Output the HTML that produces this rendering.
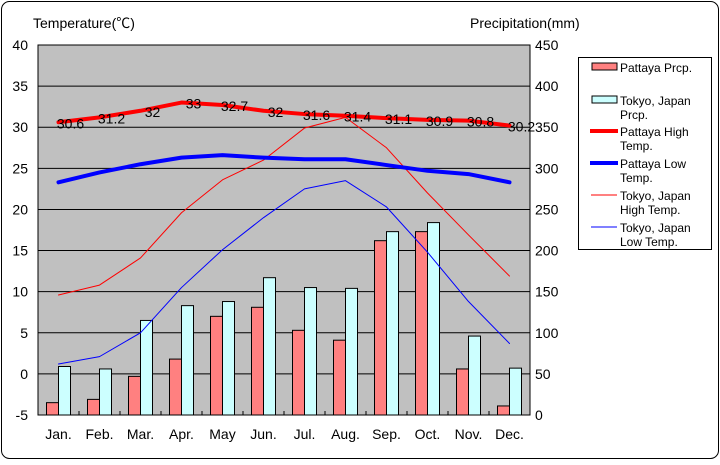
<!DOCTYPE html>
<html><head><meta charset="utf-8"><style>
body{margin:0;background:#fff;}
svg text{font-family:"Liberation Sans","Noto Sans CJK JP",sans-serif;}
</style></head><body>
<svg id="c" width="720" height="460" xmlns="http://www.w3.org/2000/svg">
<rect x="1.5" y="1.5" width="717" height="457" rx="8" fill="#fff" stroke="#000"/>
<rect x="38" y="45" width="492" height="370" fill="#c0c0c0" stroke="#000"/>
<text x="33" y="28" font-size="14">Temperature(℃)</text>
<text x="470" y="28" font-size="14">Precipitation(mm)</text>
<g id="grid"></g><g id="bars"></g><g id="lines"></g><g id="labels"></g><g id="axes"></g>
<g>
<rect x="578.5" y="57.5" width="133" height="192" fill="#fff" stroke="#000"/>
<rect x="592" y="63" width="25" height="7" fill="#ff8080" stroke="#000"/>
<text x="620" y="72" font-size="12">Pattaya Prcp.</text>
<rect x="592" y="96" width="25" height="7" fill="#ccffff" stroke="#000"/>
<text x="620" y="105" font-size="12">Tokyo, Japan</text><text x="620" y="119" font-size="12">Prcp.</text>
<line x1="590" y1="131" x2="618" y2="131" stroke="#f00" stroke-width="4"/>
<text x="620" y="136" font-size="12">Pattaya High</text><text x="620" y="150" font-size="12">Temp.</text>
<line x1="590" y1="163" x2="618" y2="163" stroke="#00f" stroke-width="4"/>
<text x="620" y="168" font-size="12">Pattaya Low</text><text x="620" y="182" font-size="12">Temp.</text>
<line x1="591" y1="195" x2="617" y2="195" stroke="#f00" stroke-width="1"/>
<text x="620" y="200" font-size="12">Tokyo, Japan</text><text x="620" y="214" font-size="12">High Temp.</text>
<line x1="591" y1="227" x2="617" y2="227" stroke="#00f" stroke-width="1"/>
<text x="620" y="232" font-size="12">Tokyo, Japan</text><text x="620" y="246" font-size="12">Low Temp.</text>
</g>
</svg>
<script>
const months=["Jan.","Feb.","Mar.","Apr.","May","Jun.","Jul.","Aug.","Sep.","Oct.","Nov.","Dec."];
const pattayaPrcp=[15,19,47,68,120,131,103,91,212,223,56,11];
const tokyoPrcp=[59,56,115,133,138,167,155,154,223,234,96,57];
const pattayaHigh=[30.6,31.2,32,33,32.7,32,31.6,31.4,31.1,30.9,30.8,30.2];
const pattayaLow=[23.3,24.5,25.5,26.3,26.6,26.3,26.1,26.1,25.4,24.7,24.3,23.3];
const tokyoHigh=[9.6,10.8,14.1,19.6,23.6,26,29.9,31.2,27.5,22,16.9,11.9];
const tokyoLow=[1.2,2.1,5,10.5,15.1,19,22.5,23.5,20.3,14.8,8.8,3.7];
const tempTicks=[-5,0,5,10,15,20,25,30,35,40];
const prcpTicks=[0,50,100,150,200,250,300,350,400,450];
const L=38,R=530,T=45,B=415,cw=(R-L)/12;
const xc=i=>L+cw*(i+0.5);
const yT=v=>B-(v+5)/45*(B-T);
const yP=v=>B-v/450*(B-T);
const NS="http://www.w3.org/2000/svg";
function mk(p,t,a){const e=document.createElementNS(NS,t);for(const k in a)e.setAttribute(k,a[k]);document.getElementById(p).appendChild(e);return e;}
tempTicks.forEach((t,i)=>{
 const y=yT(t);
 if(t>-5&&t<40){const g=mk('grid','line',{x1:L,x2:R,y1:y,y2:y,stroke:'#000','stroke-width':1});
 
 }
 const a=mk('axes','text',{x:28,y:y+5,'font-size':14,'text-anchor':'end'});a.textContent=t;
 
 
});
prcpTicks.forEach(t=>{
 const b=mk('axes','text',{x:535,y:yP(t)+5,'font-size':14});b.textContent=t;
 
 
});
months.forEach((m,i)=>{
 const x=xc(i);
 const a=mk('bars','rect',{x:x-12,y:yP(pattayaPrcp[i]),width:12,height:B-yP(pattayaPrcp[i]),fill:'#ff8080',stroke:'#000'});
 
 
 const b=mk('bars','rect',{x:x,y:yP(tokyoPrcp[i]),width:12,height:B-yP(tokyoPrcp[i]),fill:'#ccffff',stroke:'#000'});
 
 
 const t=mk('axes','text',{x:x,y:439,'font-size':14,'text-anchor':'middle'});t.textContent=m;
 
 
 if(i>0){const k=mk('axes','line',{x1:L+cw*i,x2:L+cw*i,y1:B-4,y2:B,stroke:'#000'});
 
 }
});
function line(arr,col,w,name){
 const e=mk('lines','polyline',{points:arr.map((v,i)=>xc(i)+','+yT(v)).join(' '),fill:'none',stroke:col,'stroke-width':w,'stroke-linejoin':'round','stroke-linecap':'round'});
 
 
}
line(tokyoHigh,'#f00',1,'line-tokyo-high');
line(tokyoLow,'#00f',1,'line-tokyo-low');
line(pattayaHigh,'#f00',4,'line-pattaya-high');
line(pattayaLow,'#00f',4,'line-pattaya-low');
pattayaHigh.forEach((v,i)=>{
 const t=mk('labels','text',{x:xc(i)+12,y:yT(v)+6,'font-size':14,'text-anchor':'middle'});t.textContent=v;
 
 
});
</script>
</body></html>
